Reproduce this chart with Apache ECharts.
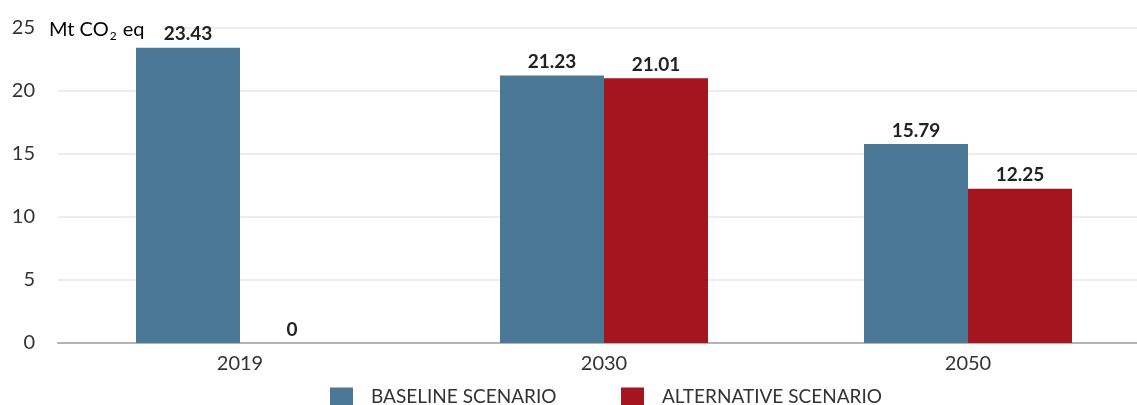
<!DOCTYPE html>
<html>
<head>
<meta charset="utf-8">
<script src="https://cdn.jsdelivr.net/npm/echarts@6/dist/echarts.min.js"></script>
<style>
  html, body { margin: 0; padding: 0; background: #fff; overflow: hidden; }
  #chart { width: 1150px; height: 405px; }
</style>
</head>
<body>
<div id="chart"></div>
<script>
// Emissions by year under two scenarios (Mt CO2 eq)
const years = ['2019', '2030', '2050'];
const baseline = [23.43, 21.23, 15.79];
const alternative = [0, 21.01, 12.25];
const seriesNames = ['BASELINE SCENARIO', 'ALTERNATIVE SCENARIO'];
const yTicks = [0, 5, 10, 15, 20, 25];

const FONT = 'Lato, "Noto Sans", sans-serif';
const chart = echarts.init(document.getElementById('chart'));

const barLabel = {
  show: true,
  position: 'top',
  distance: 4,
  fontFamily: FONT,
  fontWeight: 'bold',
  fontSize: 19,
  color: '#222'
};

const legendBase = {
  top: 387,
  padding: 0,
  itemWidth: 23,
  itemHeight: 18,
  icon: 'rect',
  textStyle: { fontFamily: FONT, fontSize: 19, color: '#333', padding: [0, 0, 0, 13] }
};

chart.setOption({
  animation: false,
  grid: { left: 58, right: 0, top: 28, bottom: 62 },
  legend: [
    Object.assign({ left: 330, data: [seriesNames[0]] }, legendBase),
    Object.assign({ left: 621, data: [seriesNames[1]] }, legendBase)
  ],
  xAxis: {
    type: 'category',
    data: years,
    axisLine: { lineStyle: { color: '#b3b3b3', width: 2 } },
    axisTick: { show: false },
    axisLabel: { fontFamily: FONT, fontSize: 20, color: '#333', margin: 11 }
  },
  yAxis: {
    type: 'value',
    min: yTicks[0],
    max: yTicks[yTicks.length - 1],
    interval: yTicks[1] - yTicks[0],
    axisLine: { show: false },
    axisTick: { show: false },
    splitLine: { lineStyle: { color: '#e6e6e6', width: 1.5 } },
    axisLabel: { fontFamily: FONT, fontSize: 20, color: '#333', margin: 23 }
  },
  graphic: [{
    type: 'text',
    left: 46,
    top: 16,
    z: 100,
    style: {
      text: '{u|Mt CO}{s|2}{u| eq}',
      backgroundColor: '#fff',
      padding: [2, 18, 2, 3],
      rich: {
        u: { fontFamily: FONT, fontSize: 20, color: '#333' },
        s: { fontFamily: FONT, fontSize: 12, color: '#333', padding: [12, 1, 0, 1] }
      }
    }
  }],
  series: [
    {
      name: seriesNames[0],
      type: 'bar',
      data: baseline,
      barWidth: 104,
      barGap: '0%',
      itemStyle: { color: '#4a7896' },
      label: barLabel
    },
    {
      name: seriesNames[1],
      type: 'bar',
      data: alternative,
      barWidth: 104,
      itemStyle: { color: '#a51520' },
      label: barLabel
    }
  ]
});
</script>
</body>
</html>
